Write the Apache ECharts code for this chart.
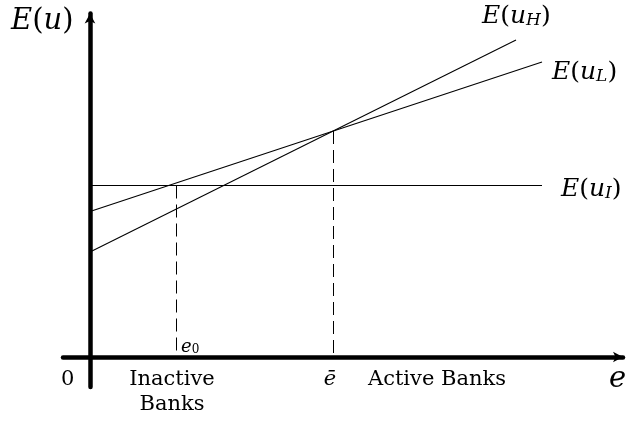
<!DOCTYPE html>
<html><head><meta charset="utf-8">
<script src="https://cdn.jsdelivr.net/npm/echarts@6/dist/echarts.min.js"></script>
<style>html,body{margin:0;padding:0;background:#fff}#c{width:631px;height:421px}</style>
</head><body><div id="c"></div>
<script>
// schematic values (e on x, expected utility on y)
const lineH = [[0, 10.5], [42.6, 31.7]];
const lineL = [[0, 14.55], [45.2, 29.5]];
const lineI = [[0, 17.15], [45.2, 17.15]];
const cutoffE = [8.65, 24.35];      // e0, e-bar
const cutoffU = [17.15, 22.6];      // height where dashed lines start
const axisRangeX = [-2.7, 53.3];
const axisRangeY = [-3.0, 34.35];

const FONT = '"DejaVu Serif", "Liberation Serif", serif';
const chart = echarts.init(document.getElementById('c'), null, {renderer: 'canvas'});

function thin(data) {
  return {type: 'line', data: data, symbol: 'none', silent: true,
    lineStyle: {color: '#000', width: 1.1}};
}
function dashed(i) {
  return {type: 'line', data: [[cutoffE[i], cutoffU[i]], [cutoffE[i], 0]], symbol: 'none', silent: true,
    lineStyle: {color: '#000', width: 1, type: [13, 6]}};
}
function mathRich(big, sub) {
  return {
    i: {fontFamily: FONT, fontStyle: 'italic', fontSize: big, color: '#000'},
    n: {fontFamily: FONT, fontSize: big, color: '#000'},
    s: {fontFamily: FONT, fontStyle: 'italic', fontSize: sub, color: '#000', verticalAlign: 'bottom', padding: [Math.round(big * 0.4), 0, 0, 0]}
  };
}
function txt(x, y, text, opts) {
  return {type: 'text', x: x, y: y, style: Object.assign({text: text,
    fontFamily: FONT, fontSize: 21, fill: '#000', textVerticalAlign: 'middle'}, opts || {})};
}

chart.setOption({
  animation: false,
  grid: {left: 63, right: 8, top: 13.5, bottom: 34},
  xAxis: {type: 'value', min: axisRangeX[0], max: axisRangeX[1], splitLine: {show: false},
    axisTick: {show: false}, axisLabel: {show: false},
    axisLine: {onZero: true, symbol: ['none', 'arrow'], symbolSize: [8, 10], lineStyle: {color: '#000', width: 4.5}}},
  yAxis: {type: 'value', min: axisRangeY[0], max: axisRangeY[1], splitLine: {show: false},
    axisTick: {show: false}, axisLabel: {show: false},
    axisLine: {onZero: true, symbol: ['none', 'arrow'], symbolSize: [8, 10], lineStyle: {color: '#000', width: 4.5}}},
  series: [thin(lineH), thin(lineL), thin(lineI), dashed(0), dashed(1)],
  graphic: [
    txt(11, 21, '{i|E}{n|(}{i|u}{n|)}', {rich: mathRich(29, 19)}),
    txt(482, 16, '{i|E}{n|(}{i|u}{s|H}{n|)}', {rich: mathRich(25, 17)}),
    txt(552, 72, '{i|E}{n|(}{i|u}{s|L}{n|)}', {rich: mathRich(25, 17)}),
    txt(561, 189, '{i|E}{n|(}{i|u}{s|I}{n|)}', {rich: mathRich(25, 17)}),
    txt(61, 380, '0'),
    txt(172, 380, 'Inactive', {textAlign: 'center'}),
    txt(172, 405, 'Banks', {textAlign: 'center'}),
    txt(330, 380, 'ē', {textAlign: 'center', fontStyle: 'italic'}),
    txt(437, 380, 'Active Banks', {textAlign: 'center'}),
    txt(609, 379, 'e', {fontSize: 29, fontStyle: 'italic'}),
    txt(181, 347, '{a|e}{b|0}', {rich: {
      a: {fontFamily: FONT, fontStyle: 'italic', fontSize: 18, color: '#000'},
      b: {fontFamily: FONT, fontSize: 12, color: '#000', verticalAlign: 'bottom', padding: [6, 0, 0, 0]}}})
  ]
});
</script></body></html>
